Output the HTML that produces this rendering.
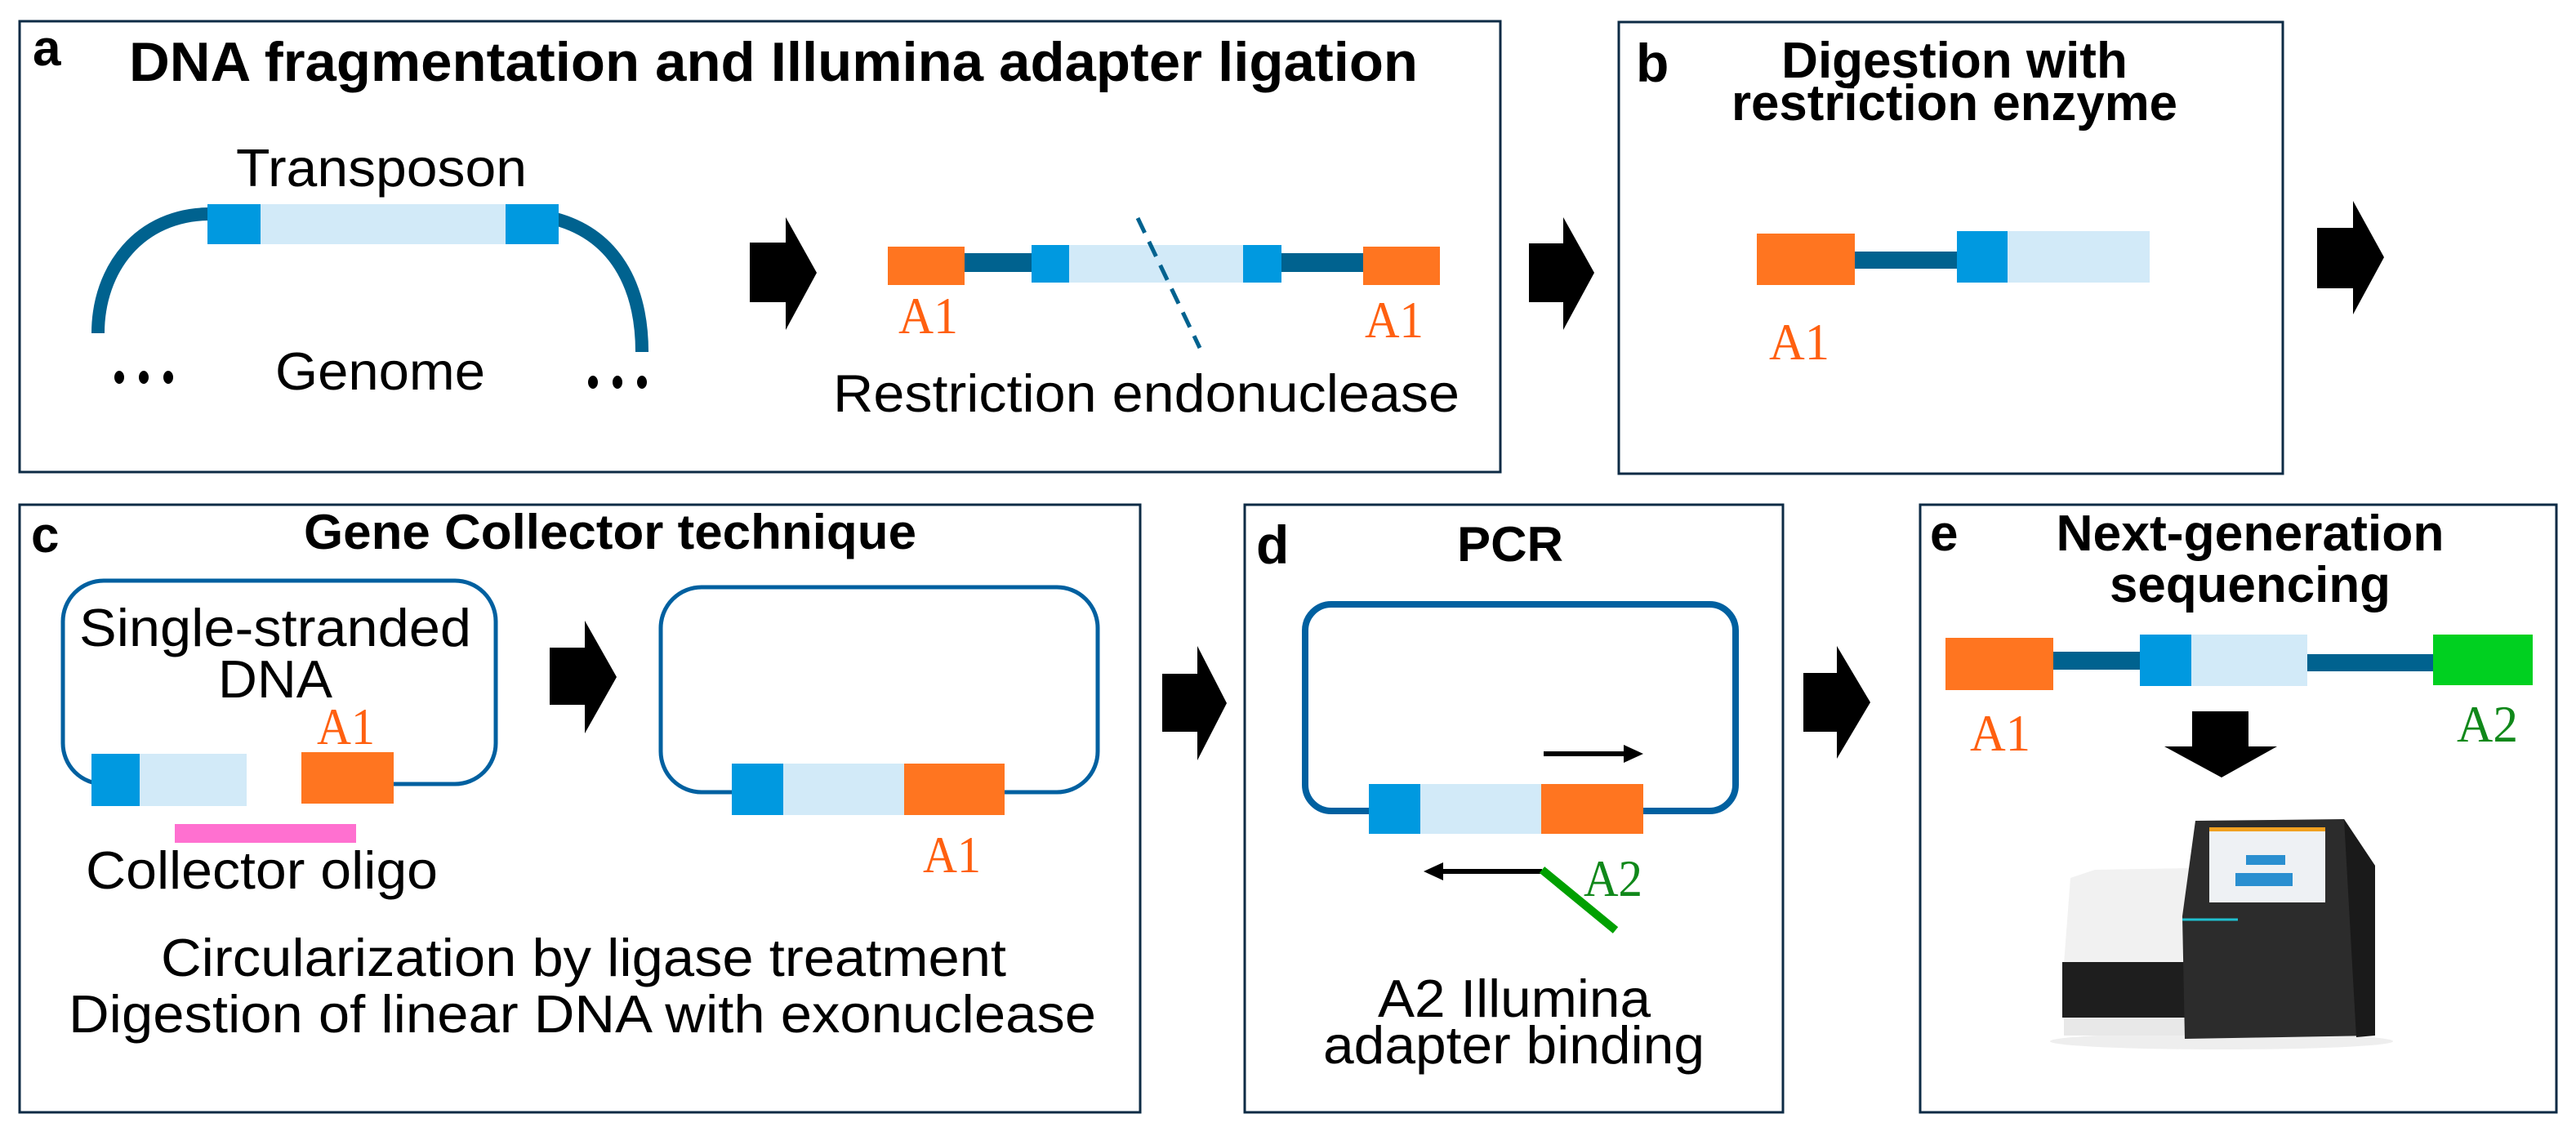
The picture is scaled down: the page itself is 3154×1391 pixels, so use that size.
<!DOCTYPE html>
<html><head><meta charset="utf-8"><style>html,body{margin:0;padding:0;background:#fff}svg{display:block}</style></head>
<body>
<svg width="3154" height="1391" viewBox="0 0 3154 1391" xmlns="http://www.w3.org/2000/svg">
<rect width="3154" height="1391" fill="#fff"/>
<g fill="none" stroke="#0d2b45" stroke-width="3">
<rect x="24" y="26" width="1813" height="552"/>
<rect x="1982" y="27" width="813" height="553"/>
<rect x="24" y="618" width="1372" height="744"/>
<rect x="1524" y="618" width="659" height="744"/>
<rect x="2351" y="618" width="779" height="744"/>
</g>
<g font-family="Liberation Sans, Arial, sans-serif" font-weight="bold" fill="#000">
<text x="40" y="80" font-size="62">a</text>
<text x="158" y="99" font-size="68" textLength="1578" lengthAdjust="spacingAndGlyphs">DNA fragmentation and Illumina adapter ligation</text>
<text x="2003" y="100" font-size="66">b</text>
<text x="2393" y="95" font-size="62" text-anchor="middle">Digestion with</text>
<text x="2393" y="147" font-size="62" text-anchor="middle" textLength="546" lengthAdjust="spacingAndGlyphs">restriction enzyme</text>
<text x="38" y="676" font-size="62">c</text>
<text x="372" y="672" font-size="60" textLength="750" lengthAdjust="spacingAndGlyphs">Gene Collector technique</text>
<text x="1538" y="690" font-size="66">d</text>
<text x="1784" y="687" font-size="60" textLength="130" lengthAdjust="spacingAndGlyphs">PCR</text>
<text x="2363" y="674" font-size="62">e</text>
<text x="2755" y="674" font-size="62" text-anchor="middle" textLength="475" lengthAdjust="spacingAndGlyphs">Next-generation</text>
<text x="2755" y="737" font-size="62" text-anchor="middle" textLength="344" lengthAdjust="spacingAndGlyphs">sequencing</text>
</g>
<!-- arrows -->
<g fill="#000">
<polygon points="918,297 962,297 962,266 1000,334 962,404 962,370 918,370"/>
<polygon points="1872,298 1914,298 1914,266 1952,334 1914,404 1914,370 1872,370"/>
<polygon points="2837,279 2881,279 2881,246 2919,315 2881,385 2881,353 2837,353"/>
<polygon points="673,793 716,793 716,760 755,829 716,898 716,863 673,863"/>
<polygon points="1423,825 1466,825 1466,791 1502,861 1466,931 1466,896 1423,896"/>
<polygon points="2208,824 2249,824 2249,791 2290,860 2249,929 2249,896 2208,896"/>
<polygon points="2684,871 2753,871 2753,914 2788,914 2720,952 2650,914 2684,914"/>
</g>
<!-- panel a -->
<path d="M258 262 C170 262 120 330 120 408" fill="none" stroke="#00628f" stroke-width="16"/>
<path d="M680 268 C760 290 786 360 786 431" fill="none" stroke="#00628f" stroke-width="16"/>
<rect x="254" y="250" width="65" height="49" fill="#0099e0"/>
<rect x="319" y="250" width="300" height="49" fill="#d2eaf8"/>
<rect x="619" y="250" width="65" height="49" fill="#0099e0"/>
<g fill="#000"><ellipse cx="146" cy="462" rx="6" ry="8"/><ellipse cx="176" cy="462" rx="6" ry="8"/><ellipse cx="206" cy="462" rx="6" ry="8"/>
<ellipse cx="726" cy="468" rx="6" ry="8"/><ellipse cx="756" cy="468" rx="6" ry="8"/><ellipse cx="786" cy="468" rx="6" ry="8"/></g>
<g font-family="Liberation Sans, Arial, sans-serif" fill="#000" font-size="65">
<text x="289" y="228" textLength="356" lengthAdjust="spacingAndGlyphs">Transposon</text>
<text x="337" y="477" textLength="257" lengthAdjust="spacingAndGlyphs">Genome</text>
<text x="1020" y="504" textLength="767" lengthAdjust="spacingAndGlyphs">Restriction endonuclease</text>
<text x="97" y="791" textLength="480" lengthAdjust="spacingAndGlyphs">Single-stranded</text>
<text x="337" y="854" text-anchor="middle" textLength="140" lengthAdjust="spacingAndGlyphs">DNA</text>
<text x="105" y="1088" textLength="431" lengthAdjust="spacingAndGlyphs">Collector oligo</text>
<text x="197" y="1195" textLength="1035" lengthAdjust="spacingAndGlyphs">Circularization by ligase treatment</text>
<text x="84" y="1264" textLength="1258" lengthAdjust="spacingAndGlyphs">Digestion of linear DNA with exonuclease</text>
<text x="1687" y="1245" textLength="334" lengthAdjust="spacingAndGlyphs">A2 Illumina</text>
<text x="1620" y="1302" textLength="467" lengthAdjust="spacingAndGlyphs">adapter binding</text>
</g>
<rect x="1181" y="310" width="82" height="23" fill="#00628f"/>
<rect x="1569" y="310" width="100" height="23" fill="#00628f"/>
<rect x="1087" y="302" width="94" height="47" fill="#ff7520"/>
<rect x="1263" y="300" width="46" height="46" fill="#0099e0"/>
<rect x="1309" y="300" width="213" height="46" fill="#d2eaf8"/>
<rect x="1522" y="300" width="47" height="46" fill="#0099e0"/>
<rect x="1669" y="302" width="94" height="47" fill="#ff7520"/>
<line x1="1393" y1="267" x2="1469" y2="426" stroke="#00628f" stroke-width="5" stroke-dasharray="20,12"/>
<g font-family="Liberation Serif, Times New Roman, serif" font-size="64" fill="#ff6010">
<text x="1100" y="408" textLength="73" lengthAdjust="spacingAndGlyphs">A1</text>
<text x="1671" y="413" textLength="72" lengthAdjust="spacingAndGlyphs">A1</text>
<text x="2166" y="440" textLength="74" lengthAdjust="spacingAndGlyphs">A1</text>
<text x="388" y="911" textLength="71" lengthAdjust="spacingAndGlyphs">A1</text>
<text x="1130" y="1068" textLength="71" lengthAdjust="spacingAndGlyphs">A1</text>
<text x="2412" y="919" textLength="74" lengthAdjust="spacingAndGlyphs">A1</text>
</g>
<g font-family="Liberation Serif, Times New Roman, serif" font-size="64" fill="#10881a">
<text x="1939" y="1097" textLength="72" lengthAdjust="spacingAndGlyphs">A2</text>
<text x="3008" y="908" textLength="75" lengthAdjust="spacingAndGlyphs">A2</text>
</g>
<!-- panel b -->
<rect x="2271" y="308" width="125" height="21" fill="#00628f"/>
<rect x="2151" y="286" width="120" height="63" fill="#ff7520"/>
<rect x="2396" y="283" width="62" height="63" fill="#0099e0"/>
<rect x="2458" y="283" width="174" height="63" fill="#d2eaf8"/>
<!-- panel c -->
<rect x="77" y="711" width="530" height="249" rx="50" ry="50" fill="none" stroke="#0060a0" stroke-width="5"/>
<rect x="112" y="923" width="59" height="64" fill="#0099e0"/>
<rect x="171" y="923" width="131" height="64" fill="#d2eaf8"/>
<rect x="302" y="950" width="67" height="14" fill="#fff"/>
<rect x="369" y="921" width="113" height="63" fill="#ff7520"/>
<rect x="214" y="1009" width="222" height="23" fill="#ff70d0"/>
<rect x="809" y="719" width="535" height="251" rx="50" ry="50" fill="none" stroke="#0060a0" stroke-width="5"/>
<rect x="896" y="935" width="63" height="63" fill="#0099e0"/>
<rect x="959" y="935" width="148" height="63" fill="#d2eaf8"/>
<rect x="1107" y="935" width="123" height="63" fill="#ff7520"/>
<!-- panel d -->
<rect x="1598" y="740" width="527" height="253" rx="32" ry="32" fill="none" stroke="#0060a0" stroke-width="8"/>
<rect x="1676" y="960" width="63" height="61" fill="#0099e0"/>
<rect x="1739" y="960" width="148" height="61" fill="#d2eaf8"/>
<rect x="1887" y="960" width="125" height="61" fill="#ff7520"/>
<line x1="1890" y1="923" x2="1995" y2="923" stroke="#000" stroke-width="6"/>
<polygon points="2012,923 1988,912 1988,934" fill="#000"/>
<line x1="1888" y1="1067" x2="1760" y2="1067" stroke="#000" stroke-width="6"/>
<polygon points="1743,1067 1767,1056 1767,1078" fill="#000"/>
<line x1="1888" y1="1065" x2="1978" y2="1139" stroke="#00a000" stroke-width="10"/>
<!-- panel e -->
<rect x="2514" y="798" width="106" height="22" fill="#00628f"/>
<rect x="2825" y="801" width="154" height="21" fill="#00628f"/>
<rect x="2382" y="781" width="132" height="64" fill="#ff7520"/>
<rect x="2620" y="777" width="63" height="63" fill="#0099e0"/>
<rect x="2683" y="777" width="142" height="63" fill="#d2eaf8"/>
<rect x="2979" y="777" width="122" height="62" fill="#00d020"/>
<!-- sequencer -->
<ellipse cx="2720" cy="1275" rx="210" ry="10" fill="#eee"/>
<path d="M2535 1075 L2565 1065 L2680 1063 L2680 1180 L2527 1180 Z" fill="#f1f1f1"/>
<rect x="2525" y="1178" width="158" height="68" fill="#1e1e1e"/>
<rect x="2527" y="1246" width="155" height="22" fill="#e8e8e8"/>
<path d="M2688 1005 L2870 1003 L2908 1060 L2908 1268 L2675 1272 L2672 1122 Z" fill="#2c2c2c"/>
<path d="M2870 1003 L2908 1060 L2908 1268 L2885 1270 Z" fill="#1a1a1a"/>
<rect x="2705" y="1013" width="142" height="92" fill="#eef1f4"/>
<rect x="2705" y="1013" width="142" height="5" fill="#f0a020"/>
<rect x="2750" y="1047" width="48" height="12" fill="#2a8fd0"/>
<rect x="2737" y="1069" width="70" height="16" fill="#2a8fd0"/>
<line x1="2672" y1="1126" x2="2740" y2="1126" stroke="#20c0d0" stroke-width="3"/>
</svg>
</body></html>
